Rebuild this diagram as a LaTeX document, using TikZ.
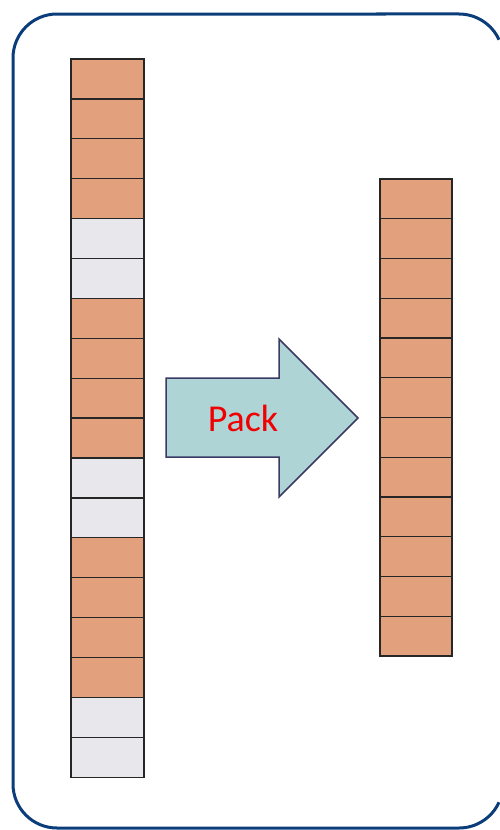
\documentclass[tikz,border=0pt]{standalone}
\usepackage{fontspec}
\setmainfont{Carlito}
\begin{document}
\begin{tikzpicture}[x=1pt,y=-1pt,
  frame/.style={draw={rgb,255:red,11;green,61;blue,122},line width=3pt},
  cell/.style={draw=black!85,line width=1.3pt,minimum width=73pt,minimum height=39.9pt,inner sep=0pt,outer sep=0pt},
  full/.style={cell,fill={rgb,255:red,226;green,161;blue,124}},
  empty/.style={cell,fill={rgb,255:red,232;green,232;blue,236}},
  packarrow/.style={draw={rgb,255:red,58;green,58;blue,100},line width=1.5pt,fill={rgb,255:red,174;green,212;blue,214},line join=miter},
  label/.style={text={rgb,255:red,240;green,0;blue,0},font=\fontsize{38}{40}\selectfont}]
  \useasboundingbox (0,0) rectangle (499,830);
  % outer frame: its right side lies past the page edge, so only the
  % left side and the four corner arcs (radius 44) are drawn
  \draw[frame] (499,{58-sqrt(44*44-40*40)})
    arc[start angle={-acos(40/44)}, end angle=-90, radius=44]
    -- (57,14) arc[start angle=-90, end angle=-180, radius=44]
    -- (13,784) arc[start angle=180, end angle=90, radius=44]
    -- (459,828) arc[start angle=90, end angle={acos(40/44)}, radius=44];
  % input column: 18 slots
  \foreach \i/\s in {1/full,2/full,3/full,4/full,5/empty,6/empty,7/full,8/full,9/full,10/full,11/empty,12/empty,13/full,14/full,15/full,16/full,17/empty,18/empty}{
    \node[\s] (in\i) at (107.5,{59+39.9*(\i-0.5)}) {};
  }
  % output column: 12 packed slots
  \foreach \i in {1,...,12}{
    \node[full,minimum width=72pt,minimum height=39.75pt] (out\i) at (416,{179+39.75*(\i-0.5)}) {};
  }
  % block arrow
  \draw[packarrow] (166,378) -- (279,378) -- (279,339) -- (358,418) -- (279,497) -- (279,457) -- (166,457) -- cycle;
  \node[label] (pack) at (243,418) {Pack};
\end{tikzpicture}
\end{document}
